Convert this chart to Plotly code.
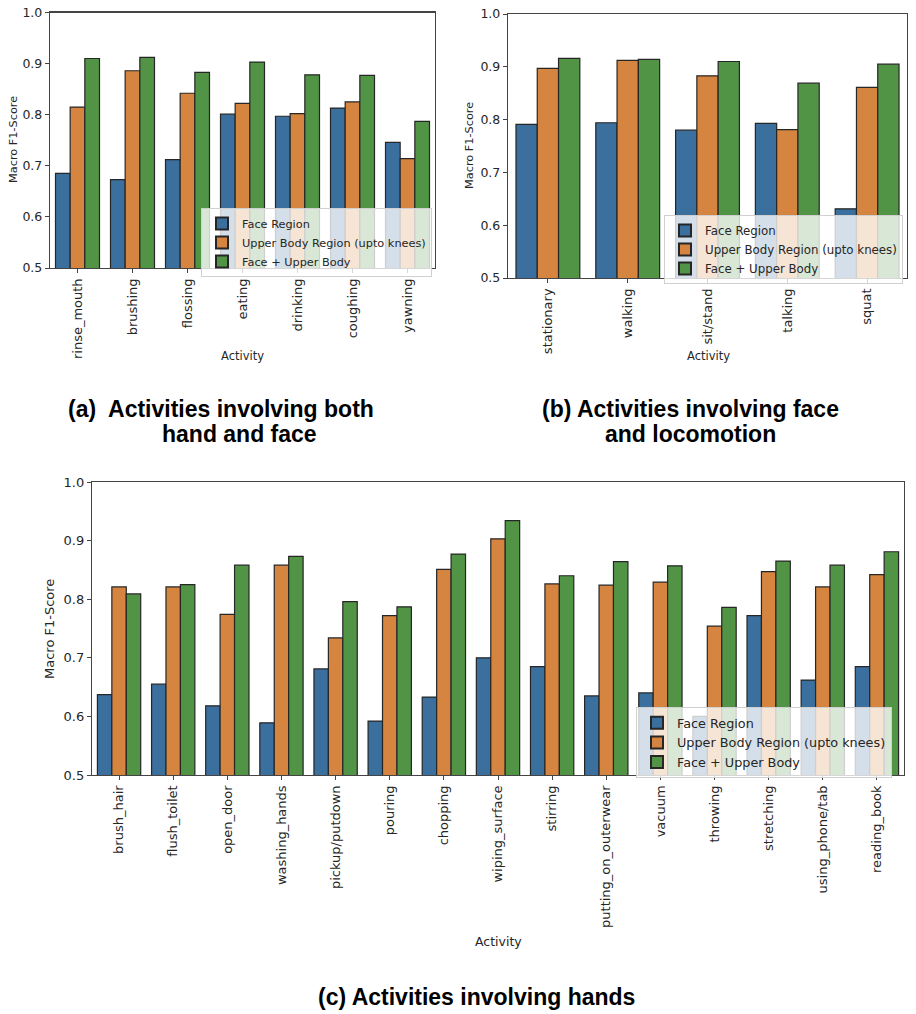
import plotly.graph_objects as go

# ---------------- data ----------------
series_names = ["Face Region", "Upper Body Region (upto knees)", "Face + Upper Body"]
colors = ["#3b6f9e", "#d5853f", "#519445"]

cats_a = ["rinse_mouth", "brushing", "flossing", "eating", "drinking", "coughing", "yawning"]
face_a = [0.685, 0.673, 0.712, 0.801, 0.797, 0.813, 0.746]
upper_a = [0.815, 0.886, 0.842, 0.822, 0.802, 0.825, 0.714]
both_a = [0.910, 0.912, 0.883, 0.903, 0.878, 0.877, 0.787]

cats_b = ["stationary", "walking", "sit/stand", "talking", "squat"]
face_b = [0.791, 0.794, 0.780, 0.793, 0.631]
upper_b = [0.897, 0.912, 0.883, 0.781, 0.861]
both_b = [0.916, 0.914, 0.910, 0.869, 0.905]

cats_c = ["brush_hair", "flush_toilet", "open_door", "washing_hands", "pickup/putdown",
          "pouring", "chopping", "wiping_surface", "stirring", "putting_on_outerwear",
          "vacuum", "throwing", "stretching", "using_phone/tab", "reading_book"]
face_c = [0.637, 0.655, 0.618, 0.589, 0.681, 0.592, 0.633, 0.700, 0.685, 0.635,
          0.640, 0.600, 0.772, 0.662, 0.685]
upper_c = [0.821, 0.821, 0.774, 0.858, 0.734, 0.772, 0.851, 0.903, 0.826, 0.824,
           0.829, 0.754, 0.847, 0.821, 0.842]
both_c = [0.809, 0.825, 0.858, 0.873, 0.796, 0.787, 0.877, 0.934, 0.840, 0.864,
          0.857, 0.786, 0.865, 0.858, 0.881]

y_ticks = [0.5, 0.6, 0.7, 0.8, 0.9, 1.0]
y_ticktext = ["0.5", "0.6", "0.7", "0.8", "0.9", "1.0"]

W, H = 916, 1014
FONT = "DejaVu Sans"
TXT = "#262626"

fig = go.Figure()

panels = [
    (cats_a, [face_a, upper_a, both_a], "x", "y", "legend"),
    (cats_b, [face_b, upper_b, both_b], "x2", "y2", "legend2"),
    (cats_c, [face_c, upper_c, both_c], "x3", "y3", "legend3"),
]
for cats, vals, xa, ya, lg in panels:
    for name, v, col in zip(series_names, vals, colors):
        fig.add_trace(go.Bar(
            x=cats, y=v, name=name, xaxis=xa, yaxis=ya, legend=lg,
            marker=dict(color=col, line=dict(color="#262626", width=1.2)),
        ))

def px_x(p):
    return p / W

def px_y(p):
    return (H - p) / H

def xaxis(dom, anchor, size):
    return dict(domain=dom, anchor=anchor, type="category", showline=True, linecolor="#444",
                linewidth=1.2, mirror=True, ticks="outside", ticklen=4, tickcolor="#444",
                tickangle=-90, tickfont=dict(family=FONT, size=size, color=TXT),
                showgrid=False, zeroline=False, fixedrange=True, automargin=False,
                ticklabeloverflow="allow")

def yaxis(dom, anchor, size):
    return dict(domain=dom, anchor=anchor, range=[0.5, 1.0], tickvals=y_ticks,
                ticktext=y_ticktext, showline=True, linecolor="#444", linewidth=1.2,
                mirror=True, ticks="outside", ticklen=4, tickcolor="#444",
                tickfont=dict(family=FONT, size=size, color=TXT),
                showgrid=False, zeroline=False, fixedrange=True, automargin=False,
                ticklabeloverflow="allow")

xa = xaxis([px_x(50), px_x(435)], "y", 13)
xb = xaxis([px_x(508), px_x(907)], "y2", 13)
xc = xaxis([px_x(92), px_x(904)], "y3", 13)
ya = yaxis([px_y(268), px_y(12.5)], "x", 12.5)
yb = yaxis([px_y(278), px_y(14)], "x2", 12.5)
yc = yaxis([px_y(775), px_y(482)], "x3", 13)

def legend(x, y, size):
    return dict(x=x, y=y, xanchor="left", yanchor="top", xref="paper", yref="paper",
                bgcolor="rgba(255,255,255,0.78)", bordercolor="#d0d0d0", borderwidth=1,
                font=dict(family=FONT, size=size, color=TXT), tracegroupgap=0,
                itemsizing="constant")

annotations = []
def ann(text, x, y, size, angle=0, bold=False, family=FONT):
    annotations.append(dict(
        text=f"<b>{text}</b>" if bold else text, x=px_x(x), y=px_y(y), xref="paper",
        yref="paper", showarrow=False, xanchor="center", yanchor="middle",
        textangle=angle, font=dict(family=family, size=size, color="#000" if bold else TXT)))

# axis titles
ann("Macro F1-Score", 13, 140, 11.3, angle=-90)
ann("Activity", 243, 356, 11.5)
ann("Macro F1-Score", 470, 146, 11.3, angle=-90)
ann("Activity", 708, 356, 11.5)
ann("Macro F1-Score", 49, 629, 13, angle=-90)
ann("Activity", 498, 941, 12.5)

# captions
CAP = "Liberation Sans"
ann("(a)\u00a0 Activities involving both", 221, 409, 23, bold=True, family=CAP)
ann("hand and face", 239, 434, 23, bold=True, family=CAP)
ann("(b) Activities involving face", 690, 409, 23, bold=True, family=CAP)
ann("and locomotion", 690, 434, 23, bold=True, family=CAP)
ann("(c) Activities involving hands", 476, 997, 23, bold=True, family=CAP)

fig.update_layout(
    width=W, height=H,
    margin=dict(l=0, r=0, t=0, b=0, pad=0, autoexpand=False),
    paper_bgcolor="white", plot_bgcolor="white",
    barmode="group", bargap=0.2, bargroupgap=0,
    xaxis=xa, yaxis=ya, xaxis2=xb, yaxis2=yb, xaxis3=xc, yaxis3=yc,
    legend=legend(px_x(201), px_y(208), 11.3),
    legend2=legend(px_x(664), px_y(215), 11.8),
    legend3=legend(px_x(636), px_y(707), 12.8),
    annotations=annotations,
    font=dict(family=FONT, color=TXT),
)

fig.write_html(
    "out.html",
    config={"displayModeBar": False, "staticPlot": True},
    post_script="document.body.style.margin='0';document.body.style.overflow='hidden';",
)
